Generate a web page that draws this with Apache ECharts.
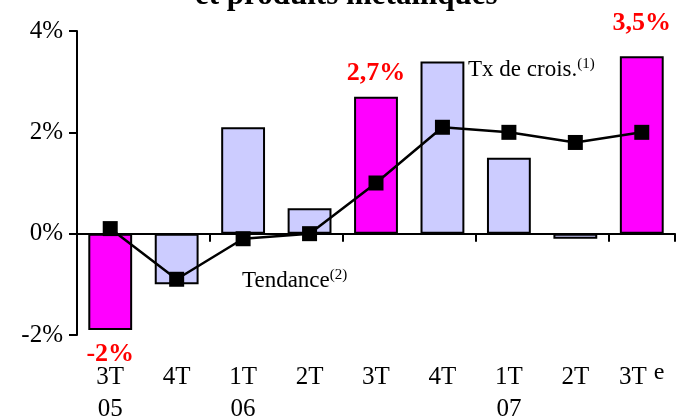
<!DOCTYPE html>
<html>
<head>
<meta charset="utf-8">
<script src="https://cdn.jsdelivr.net/npm/echarts@6/dist/echarts.min.js"></script>
<style>
html, body { margin: 0; padding: 0; background: #fff; }
#echarts_container { width: 676px; height: 418px; }
</style>
</head>
<body>
<div id="echarts_container"></div>
<script>
var categories = ['3T\n05', '4T', '1T\n06', '2T', '3T', '4T', '1T\n07', '2T', '3T{sup|e}'];
var growth = [-1.9, -1.0, 2.1, 0.5, 2.7, 3.4, 1.5, -0.1, 3.5];
var trend = [0.1, -0.9, -0.1, 0.0, 1.0, 2.1, 2.0, 1.8, 2.0];
var highlighted = [true, false, false, false, true, false, false, false, true];
var barLabels = ['-2%', '', '', '', '2,7%', '', '', '', '3,5%'];

var chartDom = document.getElementById('echarts_container');
var myChart = echarts.init(chartDom);
var serif = 'Liberation Serif';

var barData = growth.map(function (v, i) {
    var item = {
        value: v,
        itemStyle: { color: highlighted[i] ? '#FF00FF' : '#CCCCFF' }
    };
    if (barLabels[i]) {
        item.label = {
            show: true,
            position: v < 0 ? 'bottom' : 'top',
            formatter: barLabels[i],
            color: '#FF0000',
            fontFamily: serif,
            fontWeight: 'bold',
            fontSize: 26,
            distance: i == 8 ? 20 : 11
        };
    }
    return item;
});

var option = {
    animation: false,
    grid: { left: 77, right: 1, top: 31, bottom: 83, containLabel: false, outerBoundsMode: 'none' },
    graphic: [
        {
            // title, mostly cut off at the top edge
            type: 'text', left: 195, top: -20,
            style: { text: 'et produits métalliques', font: 'bold 31px "Liberation Serif"', fill: '#000' }
        },
        {
            type: 'text', left: 468, top: 57,
            style: {
                text: 'Tx de crois.{s|(1)}',
                font: '23px "Liberation Serif"', fill: '#000',
                rich: { s: { fontSize: 15, fontFamily: serif, verticalAlign: 'top', padding: [0, 0, 10, 0] } }
            }
        },
        {
            type: 'text', left: 242, top: 268,
            style: {
                text: 'Tendance{s|(2)}',
                font: '23px "Liberation Serif"', fill: '#000',
                rich: { s: { fontSize: 15, fontFamily: serif, verticalAlign: 'top', padding: [0, 0, 10, 0] } }
            }
        }
    ],
    xAxis: [
        {
            // labels only, at the bottom of the plot
            type: 'category',
            data: categories,
            position: 'bottom',
            axisLine: { show: false, onZero: false },
            axisTick: { show: false },
            axisLabel: {
                interval: 0,
                color: '#000',
                fontFamily: serif,
                fontSize: 25,
                lineHeight: 32,
                margin: 26,
                rich: { sup: { fontSize: 24, fontFamily: serif, color: '#000', verticalAlign: 'top', padding: [0, 0, 12, 7] } }
            }
        },
        {
            // zero line with ticks between categories
            type: 'category',
            data: categories,
            position: 'bottom',
            axisLine: { onZero: true, lineStyle: { color: '#000', width: 2 } },
            axisTick: { show: true, length: 8, lineStyle: { color: '#000', width: 2 } },
            axisLabel: { show: false }
        }
    ],
    yAxis: {
        type: 'value',
        min: -2, max: 4, interval: 2,
        axisLine: { show: true, lineStyle: { color: '#000', width: 2 } },
        axisTick: { show: true, length: 8, lineStyle: { color: '#000', width: 2 } },
        splitLine: { show: false },
        axisLabel: {
            color: '#000', fontFamily: serif, fontSize: 25, margin: 14,
            formatter: function (v) { return v + '%'; }
        }
    },
    series: [
        {
            name: 'Tx de crois.',
            type: 'bar',
            data: barData,
            barCategoryGap: '34%',
            itemStyle: { borderColor: '#000', borderWidth: 2 }
        },
        {
            name: 'Tendance',
            type: 'line',
            data: trend,
            symbol: 'rect',
            symbolSize: 15,
            lineStyle: { color: '#000', width: 2.5 },
            itemStyle: { color: '#000' },
            z: 5
        }
    ]
};

myChart.setOption(option);
</script>
</body>
</html>
